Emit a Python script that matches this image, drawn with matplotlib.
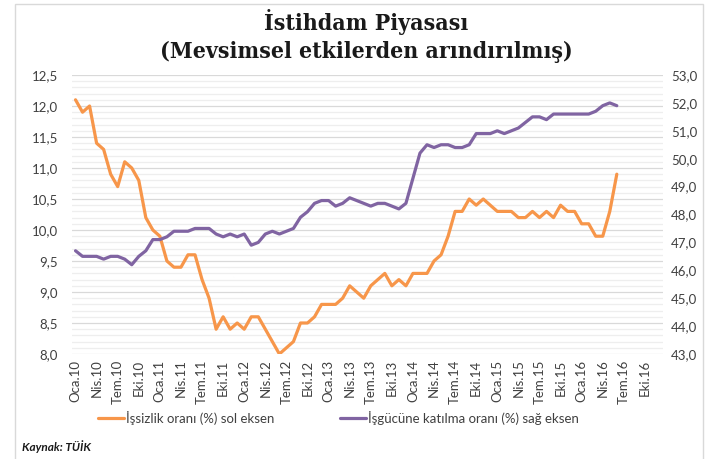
import matplotlib
matplotlib.use("Agg")
import matplotlib.pyplot as plt
from matplotlib.patches import Rectangle
from matplotlib.ticker import MultipleLocator, FixedLocator

# ---- data (monthly, Oca.10 .. Haz.16) ----
unemployment = [12.1, 11.9, 12.0, 11.4, 11.3, 10.9, 10.7, 11.1, 11.0, 10.8,
                10.2, 10.0, 9.9, 9.5, 9.4, 9.4, 9.6, 9.6, 9.2, 8.9,
                8.4, 8.6, 8.4, 8.5, 8.4, 8.6, 8.6, 8.4, 8.2, 8.0,
                8.1, 8.2, 8.5, 8.5, 8.6, 8.8, 8.8, 8.8, 8.9, 9.1,
                9.0, 8.9, 9.1, 9.2, 9.3, 9.1, 9.2, 9.1, 9.3, 9.3,
                9.3, 9.5, 9.6, 9.9, 10.3, 10.3, 10.5, 10.4, 10.5, 10.4,
                10.3, 10.3, 10.3, 10.2, 10.2, 10.3, 10.2, 10.3, 10.2, 10.4,
                10.3, 10.3, 10.1, 10.1, 9.9, 9.9, 10.3, 10.9]
participation = [46.7, 46.5, 46.5, 46.5, 46.4, 46.5, 46.5, 46.4, 46.2, 46.5,
                  46.7, 47.1, 47.1, 47.2, 47.4, 47.4, 47.4, 47.5, 47.5, 47.5,
                  47.3, 47.2, 47.3, 47.2, 47.3, 46.9, 47.0, 47.3, 47.4, 47.3,
                  47.4, 47.5, 47.9, 48.1, 48.4, 48.5, 48.5, 48.3, 48.4, 48.6,
                  48.5, 48.4, 48.3, 48.4, 48.4, 48.3, 48.2, 48.4, 49.3, 50.2,
                  50.5, 50.4, 50.5, 50.5, 50.4, 50.4, 50.5, 50.9, 50.9, 50.9,
                  51.0, 50.9, 51.0, 51.1, 51.3, 51.5, 51.5, 51.4, 51.6, 51.6,
                  51.6, 51.6, 51.6, 51.6, 51.7, 51.9, 52.0, 51.9]
month_names = ["Oca", "Şub", "Mar", "Nis", "May", "Haz",
               "Tem", "Ağu", "Eyl", "Eki", "Kas", "Ara"]
years = [10, 11, 12, 13, 14, 15, 16]
series_names = ["İşsizlik oranı (%) sol eksen", "İşgücüne katılma oranı (%) sağ eksen"]
title_lines = ["İstihdam Piyasası", "(Mevsimsel etkilerden arındırılmış)"]
source_text = "Kaynak: TÜİK"

categories = [f"{m}.{y}" for y in years for m in month_names]  # 84 months
left_ticks = [8.0, 8.5, 9.0, 9.5, 10.0, 10.5, 11.0, 11.5, 12.0, 12.5]
right_ticks = [43, 44, 45, 46, 47, 48, 49, 50, 51, 52, 53]

ORANGE = "#F7964A"
PURPLE = "#8064A2"
TXT = "#404040"

W, H = 721, 459
fig = plt.figure(figsize=(W / 100, H / 100), dpi=100)
fig.patch.set_facecolor("white")

ax = fig.add_axes([72 / W, 1 - 354 / H, (662.5 - 72) / W, (354 - 75) / H])
ax2 = ax.twinx()

x_un = list(range(len(unemployment)))
x_pa = list(range(len(participation)))
l1, = ax.plot(x_un, unemployment, color=ORANGE, lw=2.3, solid_joinstyle="round",
              solid_capstyle="round", zorder=3)
l2, = ax2.plot(x_pa, participation, color=PURPLE, lw=2.3, solid_joinstyle="round",
               solid_capstyle="round", zorder=3)

ax.set_xlim(-0.5, len(categories) - 0.5)
ax.set_ylim(8.0, 12.5)
ax2.set_ylim(43, 53)

tick_pos = list(range(0, len(categories), 3))
ax.set_xticks(tick_pos)
ax.set_xticklabels([categories[i] for i in tick_pos], rotation=90,
                   fontsize=9.5, family="Lato", color=TXT)

ax.yaxis.set_major_locator(FixedLocator(left_ticks))
ax.set_yticklabels([f"{v:.1f}".replace(".", ",") for v in left_ticks],
                   fontsize=9.5, family="Lato", color=TXT)
ax.yaxis.set_minor_locator(MultipleLocator(0.1))
ax2.yaxis.set_major_locator(FixedLocator(right_ticks))
ax2.set_yticklabels([f"{v:.1f}".replace(".", ",") for v in right_ticks],
                    fontsize=9.5, family="Lato", color=TXT)

ax.grid(which="major", axis="y", color="#d9d9d9", lw=0.9, zorder=0)
ax.grid(which="minor", axis="y", color="#eeeeee", lw=0.9, zorder=0)
ax.set_axisbelow(True)

for a in (ax, ax2):
    for s in a.spines.values():
        s.set_visible(False)
ax.tick_params(axis="both", which="both", length=0)
ax.tick_params(axis="y", pad=10)
ax.tick_params(axis="x", pad=4)
ax2.tick_params(axis="y", which="both", length=0, pad=6)

# title
for k, yy in enumerate((22, 52)):
    fig.text(366 / W, 1 - yy / H, title_lines[k], ha="center", va="center",
             fontsize=16.5, fontweight="bold", family="DejaVu Serif",
             fontstretch="condensed", color="#1a1a1a")

# legend
fig.legend([l1, l2], series_names, loc="center left",
           bbox_to_anchor=(86 / W, 1 - 418 / H), ncol=2, frameon=False,
           prop={"family": "Lato", "size": 9.5}, handlelength=2.0,
           handletextpad=0.1, columnspacing=5.0, labelcolor=TXT)

fig.text(22 / W, 1 - 447 / H, source_text, ha="left", va="center", fontsize=8.5,
         fontweight="bold", style="italic", family="Lato", color="#1a1a1a")

# outer frame
fig.patches.append(Rectangle((15 / W, -0.05), (703 - 15) / W, 1.05 - 4.5 / H,
                             transform=fig.transFigure, fill=False,
                             edgecolor="#d9d9d9", lw=1.0))

fig.savefig("out.png", dpi=100)
